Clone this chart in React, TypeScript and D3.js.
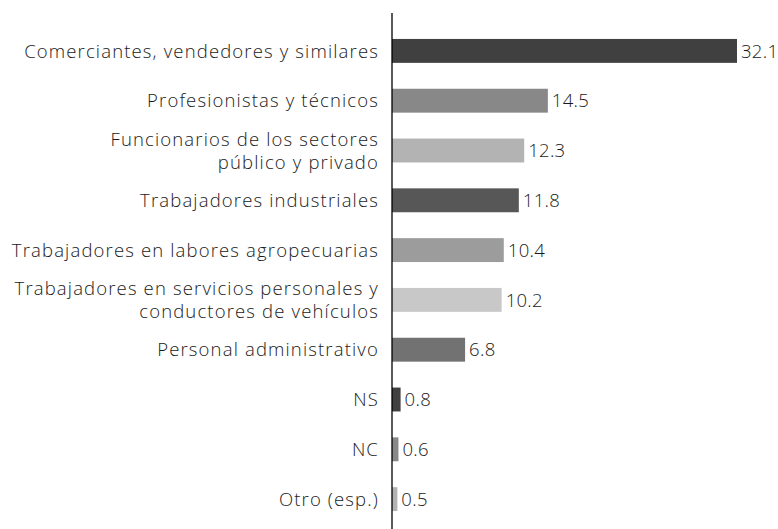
import React from 'react';
import { scaleLinear, scaleBand } from 'd3';

const categories = [
  ['Comerciantes, vendedores y similares'],
  ['Profesionistas y técnicos'],
  ['Funcionarios de los sectores', 'público y privado'],
  ['Trabajadores industriales'],
  ['Trabajadores en labores agropecuarias'],
  ['Trabajadores en servicios personales y', 'conductores de vehículos'],
  ['Personal administrativo'],
  ['NS'],
  ['NC'],
  ['Otro (esp.)'],
];
const values = [32.1, 14.5, 12.3, 11.8, 10.4, 10.2, 6.8, 0.8, 0.6, 0.5];
const colors = ['#404040', '#888888', '#b3b3b3', '#575757', '#9c9c9c', '#c8c8c8', '#727272', '#404040', '#888888', '#b3b3b3'];

const W = 778;
const H = 529;
const axisX = 392;

const App = () => {
  const x = scaleLinear().domain([0, 32.1]).range([axisX, 737]);
  const y = scaleBand<number>()
    .domain(values.map((_, i) => i))
    .range([26, 524])
    .paddingInner(0.52)
    .paddingOuter(0.26);

  return (
    <svg width={W} height={H} style={{ position: 'absolute', left: 0, top: 0 }}
      fontFamily="'Open Sans', 'Noto Sans', sans-serif" fontWeight={300} fontSize={18.5}
      letterSpacing={1.15}>
      {values.map((v, i) => {
        const yc = y(i)! + y.bandwidth() / 2;
        const lines = categories[i];
        return (
          <g key={i}>
            <rect x={axisX} y={y(i)} width={x(v) - axisX} height={y.bandwidth()} fill={colors[i]} />
            <text x={x(v) + 4} y={yc} dy="0.36em" fill="#1a1a1a" letterSpacing={0.3}>{v.toFixed(1)}</text>
            {lines.map((l, j) => (
              <text key={j} x={379} y={yc + (j - (lines.length - 1) / 2) * 23} dy="0.36em"
                textAnchor="end" fill="#1a1a1a">{l}</text>
            ))}
          </g>
        );
      })}
      <line x1={axisX} x2={axisX} y1={13} y2={H} stroke="#000" strokeWidth={1.3} />
    </svg>
  );
};

export default App;
